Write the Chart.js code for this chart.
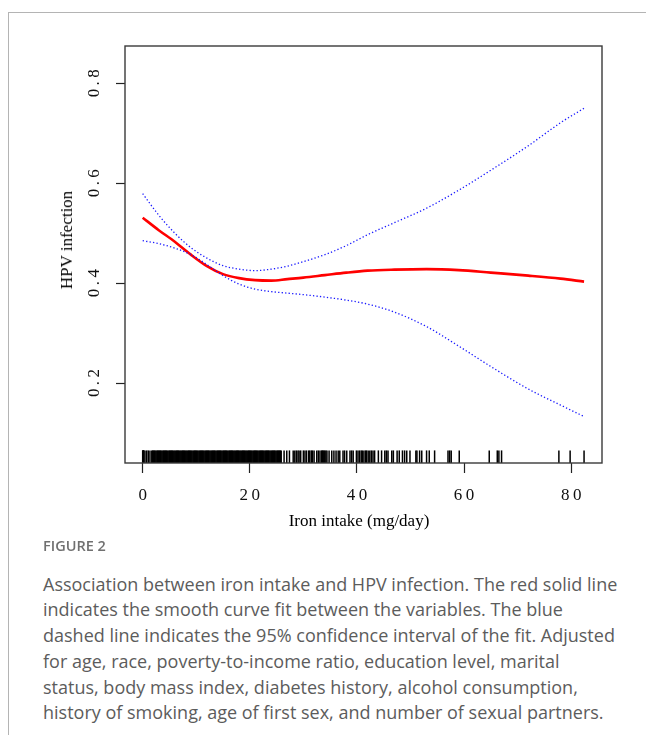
<!DOCTYPE html>
<html lang="en">
<head>
<meta charset="UTF-8">
<title>Iron intake and HPV infection</title>
<script src="https://cdn.jsdelivr.net/npm/chart.js"></script>
<style>
  body { margin: 0; background: #fff; width: 646px; height: 735px; position: relative; overflow: hidden; }
  .moldura { position: absolute; left: 8px; top: 12px; right: 0; bottom: 0; border-top: 1px solid #b4b4b4; border-left: 1px solid #b4b4b4; }
  #grafico { position: absolute; left: 0; top: 0; }
  .tituloY, .tituloX { position: absolute; font-family: 'Liberation Serif', serif; font-size: 17px; color: #000; white-space: nowrap; }
  .tituloY { left: 67px; top: 240px; transform: translate(-50%, -50%) rotate(-90deg); }
  .tituloX { left: 359px; top: 521px; transform: translate(-50%, -50%); }
  .figura { position: absolute; left: 43px; top: 536px; font-family: 'Open Sans', sans-serif; font-weight: 600; font-size: 14.5px; line-height: 20px; color: #707070; }
  .legenda { position: absolute; left: 43px; top: 571.5px; font-family: 'Open Sans', sans-serif; font-size: 18px; line-height: 25.8px; color: #5c5c5c; white-space: nowrap; }
</style>
</head>
<body>
  <div class="moldura"></div>
  <canvas id="grafico" width="646" height="540"></canvas>
  <div class="tituloY">HPV infection</div>
  <div class="tituloX">Iron intake (mg/day)</div>
  <div class="figura">FIGURE 2</div>
  <div class="legenda">
    Association between iron intake and HPV infection. The red solid line<br>
    indicates the smooth curve fit between the variables. The blue<br>
    dashed line indicates the 95% confidence interval of the fit. Adjusted<br>
    for age, race, poverty-to-income ratio, education level, marital<br>
    status, body mass index, diabetes history, alcohol consumption,<br>
    history of smoking, age of first sex, and number of sexual partners.
  </div>
<script>
  // curva ajustada e intervalo de confiança
  const ferro = [0, 3, 6, 9, 12, 15, 18, 21, 24, 27, 30, 34, 38, 42, 47, 53, 59, 65, 72, 78, 82.4]
  const ajuste = [0.531, 0.506, 0.483, 0.457, 0.434, 0.418, 0.410, 0.406, 0.405, 0.408, 0.411, 0.416, 0.421, 0.425, 0.427, 0.428, 0.426, 0.421, 0.415, 0.409, 0.403]
  const superior = [0.579, 0.536, 0.500, 0.471, 0.450, 0.435, 0.428, 0.425, 0.428, 0.434, 0.443, 0.457, 0.475, 0.497, 0.521, 0.550, 0.586, 0.626, 0.675, 0.721, 0.750]
  const inferior = [0.485, 0.479, 0.470, 0.457, 0.437, 0.415, 0.398, 0.388, 0.383, 0.380, 0.377, 0.372, 0.366, 0.358, 0.342, 0.313, 0.274, 0.233, 0.188, 0.156, 0.133]

  // valores observados de ingestão de ferro (rug)
  const observados = [
    0.0, 0.05, 0.1, 0.15, 0.2, 0.43, 0.75, 1.05, 1.36,
    1.7, 1.86, 2.01, 2.18, 2.33, 2.5, 2.66, 2.81, 2.97, 3.14, 3.3, 3.45, 3.62, 3.78, 3.93,
    4.1, 4.26, 4.41, 4.58, 4.74, 4.9, 5.05, 5.22, 5.38, 5.53, 5.7, 5.86, 6.01, 6.18, 6.34,
    6.5, 6.65, 6.82, 6.98, 7.13, 7.3, 7.46, 7.61, 7.78, 7.94, 8.1, 8.25, 8.42, 8.58, 8.73,
    8.9, 9.06, 9.21, 9.38, 9.54, 9.7, 9.85, 10.02, 10.18, 10.33, 10.5, 10.66, 10.81, 10.98,
    11.14, 11.3, 11.45, 11.62, 11.78, 11.93, 12.1, 12.26, 12.41, 12.58, 12.74, 12.9, 13.05,
    13.22, 13.38, 13.53, 13.7, 13.86, 14.01, 14.18, 14.34, 14.5, 14.65, 14.82, 14.98, 15.13,
    15.3, 15.46, 15.61, 15.78, 15.94, 16.1, 16.25, 16.42, 16.58, 16.73, 16.9, 17.06, 17.21,
    17.38, 17.54, 17.7, 17.85, 18.02, 18.18, 18.33, 18.5, 18.66, 18.81, 18.98, 19.14, 19.3,
    19.45, 19.62, 19.78, 19.93, 20.1, 20.26, 20.41, 20.58, 20.74, 20.9, 21.05, 21.22, 21.38,
    21.53, 21.7, 21.86, 22.01, 22.18, 22.34, 22.5, 22.65, 22.82, 22.98, 23.13, 23.3, 23.46,
    23.61, 23.78, 23.94, 24.1, 24.25, 24.42, 24.58, 24.73, 24.9, 25.06, 25.21, 25.38, 25.54,
    25.7, 25.86,
    26.4, 26.9, 27.4, 28.1, 28.4, 28.7, 29.0, 29.2, 29.5, 30.0, 30.3, 30.6, 31.0, 31.2, 31.5,
    31.7, 32.0, 32.5, 32.8, 33.1, 33.4, 33.55, 33.7, 33.85, 34.0, 34.2,
    34.4, 34.8, 35.3, 35.7, 36.1, 36.5, 36.8, 37.4, 37.7, 38.1, 38.7, 39.0, 39.3, 39.9, 40.2,
    40.5, 40.8, 41.0, 41.3, 41.6, 41.8, 42.1, 42.4, 42.7, 43.0,
    43.3, 44.0, 44.6, 45.2, 45.5, 45.8, 46.5, 46.8, 47.5, 47.9, 48.5, 48.9, 49.3, 49.9,
    51.0, 51.2, 51.7, 52.1, 53.0, 53.5, 54.5, 57.0, 57.3, 57.6, 59.1, 64.7, 66.2, 66.5, 67.0,
    77.7, 79.8, 82.4
  ]

  const ticksX = [0, 20, 40, 60, 80]
  const ticksY = [0.2, 0.4, 0.6, 0.8]
  const limitesX = [-3.3, 85.75]
  const limitesY = [0.04, 0.8746]
  const alturaRug = 0.0526

  const fonteEixo = { family: "'Liberation Serif', serif", size: 17 }

  // o R deixa os dígitos mais afastados
  function espacado(txt) {
    return String(txt).split('').join('\u2009')
  }

  const moldura = {
    id: 'moldura',
    afterDraw(chart) {
      const a = chart.chartArea
      const c = chart.ctx
      c.save()
      c.strokeStyle = '#3a3a3a'
      c.lineWidth = 1.4
      c.strokeRect(a.left, a.top, a.right - a.left, a.bottom - a.top)
      c.restore()
    }
  }

  const ctx = document.getElementById('grafico')

  const chart1 = new Chart(ctx, {
    type: 'scatter',
    data: {
      datasets: [
        {
          data: observados.map((v) => ({ x: v, y: alturaRug })),
          pointStyle: 'line',
          rotation: 90,
          pointRadius: 6.3,
          pointBorderWidth: 1.5,
          pointBorderColor: '#000',
          showLine: false
        },
        {
          data: ferro.map((v, i) => ({ x: v, y: superior[i] })),
          showLine: true,
          borderColor: '#1a1aff',
          borderWidth: 1.3,
          borderDash: [1.3, 2.2],
          pointRadius: 0,
          cubicInterpolationMode: 'monotone'
        },
        {
          data: ferro.map((v, i) => ({ x: v, y: inferior[i] })),
          showLine: true,
          borderColor: '#1a1aff',
          borderWidth: 1.3,
          borderDash: [1.3, 2.2],
          pointRadius: 0,
          cubicInterpolationMode: 'monotone'
        },
        {
          data: ferro.map((v, i) => ({ x: v, y: ajuste[i] })),
          showLine: true,
          borderColor: '#ff0000',
          borderWidth: 2.6,
          pointRadius: 0,
          cubicInterpolationMode: 'monotone'
        }
      ]
    },
    options: {
      responsive: false,
      animation: false,
      devicePixelRatio: 1,
      events: [],
      layout: { padding: { top: 46, right: 44, left: 0, bottom: 0 } },
      plugins: {
        legend: { display: false },
        tooltip: { enabled: false }
      },
      scales: {
        x: {
          type: 'linear',
          min: limitesX[0],
          max: limitesX[1],
          afterFit: (s) => { s.height = 77 },
          afterBuildTicks: (s) => { s.ticks = ticksX.map((v) => ({ value: v })) },
          grid: { drawOnChartArea: false, tickLength: 10, tickColor: '#222', tickWidth: 1.2 },
          border: { display: false },
          ticks: {
            color: '#111',
            font: fonteEixo,
            padding: 12,
            maxRotation: 0,
            autoSkip: false,
            callback: (v) => espacado(v)
          }
        },
        y: {
          type: 'linear',
          min: limitesY[0],
          max: limitesY[1],
          afterFit: (s) => { s.width = 125 },
          afterBuildTicks: (s) => { s.ticks = ticksY.map((v) => ({ value: v })) },
          grid: { drawOnChartArea: false, tickLength: 9, tickColor: '#222', tickWidth: 1.2 },
          border: { display: false },
          ticks: {
            color: '#111',
            font: fonteEixo,
            padding: 7,
            minRotation: 90,
            maxRotation: 90,
            crossAlign: 'center',
            autoSkip: false,
            callback: (v) => espacado(v.toFixed(1))
          }
        }
      }
    },
    plugins: [moldura]
  })
</script>
</body>
</html>
